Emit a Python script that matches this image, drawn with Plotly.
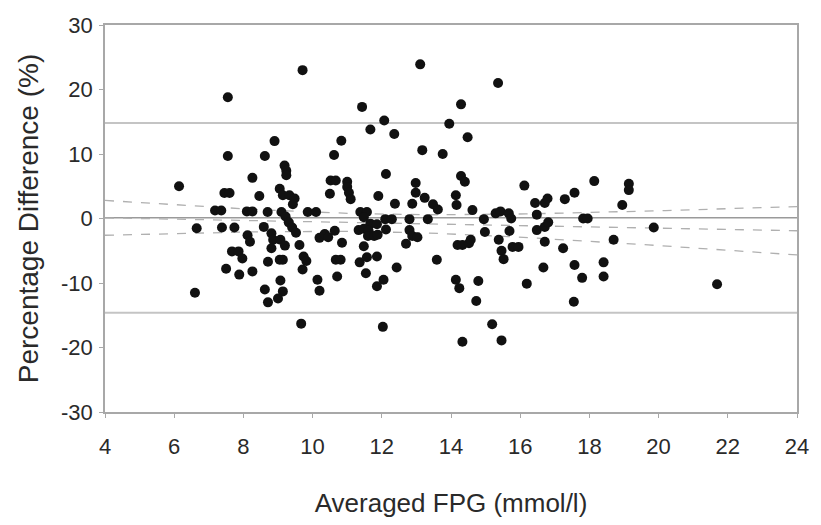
import numpy as np
import plotly.graph_objects as go

# ---- data ----
fpg = [6.14, 6.65, 6.6, 7.18, 7.36, 7.45, 7.6, 7.55, 7.55, 7.38, 7.74, 7.5, 7.67, 7.86, 7.97, 7.88,
       8.1, 8.26, 8.12, 8.19, 8.26, 8.26, 8.46, 8.62, 8.59, 8.7, 8.81, 8.86, 8.81, 8.71, 8.62, 8.71, 8.9,
       9.71, 13.11, 11.43, 12.07, 11.67, 12.36, 10.83, 10.62, 13.17, 13.76, 9.19, 9.24, 9.24, 12.12,
       10.52, 10.67, 11.0, 11.0, 11.05, 11.1, 10.5, 9.05, 9.14, 9.33, 9.48, 9.43, 11.9, 12.38, 12.88,
       12.98, 12.98, 13.24, 13.48, 13.62, 13.33, 9.1, 9.22, 9.31, 9.41, 9.52, 9.86, 10.1, 9.07, 9.2,
       9.62, 9.05, 9.14, 9.74, 9.82, 9.71, 9.07, 9.14, 9.0, 10.14, 10.2, 9.67, 10.2, 10.35, 10.45,
       10.64, 10.85, 10.67, 10.81, 10.71, 11.48, 11.36, 11.57, 11.86, 11.54, 11.86, 12.05, 12.03,
       11.38, 11.57, 11.48, 11.67, 11.86, 11.33, 11.48, 11.62, 11.6, 11.78, 11.88, 12.1, 12.29, 12.12,
       12.8, 12.8, 12.88, 13.03, 12.7, 12.43, 13.59,
       15.36, 14.29, 13.95, 14.48, 14.29, 14.4, 18.14, 16.12, 17.57, 17.29, 14.14, 14.16, 14.62, 14.95,
       15.29, 15.43, 15.67, 15.74, 16.43, 16.48, 16.71, 16.79, 17.82, 17.95, 14.98, 15.38, 15.69, 15.46,
       15.52, 15.78, 15.95, 16.48, 16.71, 16.81, 16.71, 17.24, 16.67, 17.57, 17.79, 18.41, 18.41, 18.7,
       14.19, 14.33, 14.52, 14.57, 14.14, 14.24, 14.79, 14.73, 16.19, 17.55, 15.19, 14.33, 15.46,
       19.14, 19.14, 18.95, 19.86, 21.69]
pct_diff = [5.0, -1.5, -11.5, 1.25, 1.25, 3.95, 3.95, 18.8, 9.7, -1.4, -1.4, -7.8, -5.1, -5.1, -6.2, -8.7,
            1.1, 1.1, -2.6, -3.6, 6.3, -8.2, 3.5, 9.7, -1.3, 1.0, -2.3, -3.3, -4.6, -6.7, -11.0, -13.0, 12.0,
            23.0, 23.9, 17.3, 15.2, 13.8, 13.1, 12.05, 9.85, 10.6, 10.0, 8.2, 7.4, 6.7, 6.9,
            5.9, 5.9, 5.7, 4.9, 4.0, 3.0, 3.85, 4.6, 3.6, 3.6, 3.1, 2.2, 3.5, 2.3, 2.3,
            5.5, 4.0, 3.2, 2.2, 1.4, -0.1, 1.0, 0.3, -0.6, -1.4, -2.2, 1.0, 1.0, -3.3, -4.2,
            -4.1, -6.4, -6.4, -5.9, -6.6, -7.9, -9.6, -11.3, -12.4, -9.5, -11.2, -16.3, -3.0, -2.4, -2.9,
            -1.9, -3.75, -6.4, -6.4, -9.0, -4.3, -6.8, -6.0, -5.9, -8.5, -10.5, -9.5, -16.8,
            1.0, 1.0, 0.2, -0.8, -0.9, -1.8, -1.6, -1.9, -2.7, -2.7, -2.5, -0.1, -0.1, -1.7,
            -0.1, -1.8, -2.7, -2.9, -3.9, -7.6, -6.4,
            21.0, 17.7, 14.7, 12.6, 6.6, 5.7, 5.8, 5.1, 4.0, 3.0, 3.6, 2.1, 1.3, -0.1,
            0.8, 1.1, 0.8, 0.0, 2.4, 0.6, 2.4, 3.1, 0.0, 0.0, -2.1, -3.3, -1.95, -5.0,
            -6.3, -4.4, -4.4, -1.8, -1.3, -0.6, -3.6, -4.6, -7.6, -7.2, -9.2, -6.8, -9.0, -3.3,
            -4.1, -4.1, -3.85, -3.3, -9.5, -10.8, -9.7, -12.8, -10.1, -12.9, -16.4, -19.1, -18.9,
            5.4, 4.4, 2.1, -1.4, -10.2]

x_ticks = [4, 6, 8, 10, 12, 14, 16, 18, 20, 22, 24]
y_ticks = [-30, -20, -10, 0, 10, 20, 30]
y_tick_labels = ["-30", "-20", "-10", "0", "10", "20", "30"]

mean_bias = 0.1
loa_upper = 14.8
loa_lower = -14.6
# regression of difference on mean with 95% CI (values read at x = 4 and x = 24)
reg_ends_x = [4, 24]
reg_ends_y = [0.1, -1.9]
ci_halfwidth_ends = [2.7, 3.75]
x_center = 12.0

# ---- derived curves ----
xs = np.linspace(reg_ends_x[0], reg_ends_x[1], 80)
slope = (reg_ends_y[1] - reg_ends_y[0]) / (reg_ends_x[1] - reg_ends_x[0])
reg_line = reg_ends_y[0] + slope * (xs - reg_ends_x[0])
d0 = (reg_ends_x[0] - x_center) ** 2
d1 = (reg_ends_x[1] - x_center) ** 2
B = (ci_halfwidth_ends[1] ** 2 - ci_halfwidth_ends[0] ** 2) / (d1 - d0)
A = ci_halfwidth_ends[0] ** 2 - B * d0
hw = np.sqrt(A + B * (xs - x_center) ** 2)

fig = go.Figure()
xr = [4, 24]
for yv, col, w in [(loa_upper, "#c4c4c4", 2), (loa_lower, "#c4c4c4", 2), (mean_bias, "#9a9a9a", 1.5)]:
    fig.add_trace(go.Scatter(x=xr, y=[yv, yv], mode="lines",
                             line=dict(color=col, width=w), hoverinfo="skip", showlegend=False))
for yy in [reg_line, reg_line + hw, reg_line - hw]:
    fig.add_trace(go.Scatter(x=xs, y=yy, mode="lines",
                             line=dict(color="#b0b0b0", width=1.3, dash="dash"),
                             hoverinfo="skip", showlegend=False))

fig.add_trace(go.Scatter(x=fpg, y=pct_diff, mode="markers",
                         marker=dict(color="#111111", size=10), showlegend=False))

fam = "Liberation Sans, Arial, sans-serif"
tick_font = dict(family=fam, size=22, color="#2a2a2a")
fig.update_layout(
    width=821, height=525,
    margin=dict(l=105, r=16, t=25, b=110),
    paper_bgcolor="white", plot_bgcolor="white",
    font=dict(family=fam, color="#2a2a2a"),
    xaxis=dict(range=[4, 24], tickvals=x_ticks, showgrid=False, zeroline=False,
               showline=True, linecolor="#a8a8a8", linewidth=1.5, mirror=True,
               ticks="outside", ticklen=4, tickcolor="#a8a8a8",
               ticklabelstandoff=10, tickfont=tick_font,
               title=dict(text="Averaged FPG (mmol/l)", font=dict(family=fam, size=26, color="#2a2a2a"),
                          standoff=36)),
    yaxis=dict(range=[-30, 30], tickvals=y_ticks, ticktext=y_tick_labels,
               showgrid=False, zeroline=False,
               showline=True, linecolor="#a8a8a8", linewidth=1.5, mirror=True,
               ticks="outside", ticklen=4, tickcolor="#a8a8a8",
               ticklabelstandoff=2, tickfont=tick_font,
               title=dict(text="Percentage Difference (%)", font=dict(family=fam, size=28, color="#2a2a2a"),
                          standoff=14)),
)

fig.write_html("out.html")
